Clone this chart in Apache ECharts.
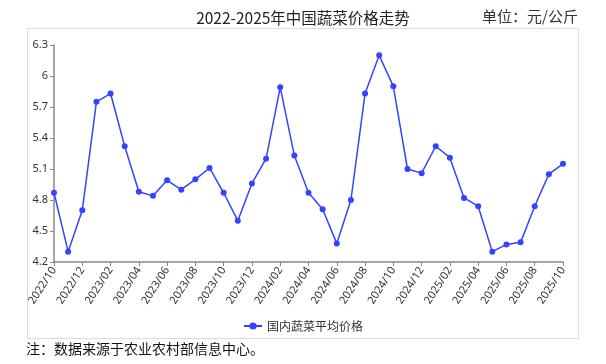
<!DOCTYPE html>
<html>
<head>
<meta charset="utf-8">
<script src="https://cdn.jsdelivr.net/npm/echarts@6/dist/echarts.min.js"></script>
<style>
html,body{margin:0;padding:0;background:#fff;}
#c{width:606px;height:364px;}
</style>
</head>
<body>
<div id="c"></div>
<script>
const months = ["2022/10","2022/11","2022/12",
"2023/01","2023/02","2023/03","2023/04","2023/05","2023/06","2023/07","2023/08","2023/09","2023/10","2023/11","2023/12",
"2024/01","2024/02","2024/03","2024/04","2024/05","2024/06","2024/07","2024/08","2024/09","2024/10","2024/11","2024/12",
"2025/01","2025/02","2025/03","2025/04","2025/05","2025/06","2025/07","2025/08","2025/09","2025/10"];
const prices = [4.87,4.30,4.70,
5.75,5.83,5.32,4.88,4.84,4.99,4.90,5.00,5.11,4.87,4.60,4.96,
5.20,5.89,5.23,4.87,4.71,4.38,4.80,5.83,6.20,5.90,5.10,5.06,
5.32,5.21,4.82,4.74,4.30,4.37,4.39,4.74,5.05,5.15];
const seriesName = "国内蔬菜平均价格";
const titleText = "2022-2025年中国蔬菜价格走势";
const unitText = "单位：元/公斤";
const noteText = "注：数据来源于农业农村部信息中心。";

const chart = echarts.init(document.getElementById('c'), null, {renderer:'canvas'});
const blue = '#3344ff';
chart.setOption({
  animation:false,
  backgroundColor:'#fff',
  title:{
    text:titleText, left:'center', top:5,
    textStyle:{fontFamily:'Noto Sans CJK SC', fontSize:15.5, fontWeight:'normal', color:'#222'}
  },
  graphic:[
    {type:'rect', shape:{x:27.5,y:28.5,width:551,height:310}, style:{fill:'none', stroke:'#dcdcdc', lineWidth:1}, z:-1},
    {type:'text', right:28, top:9, style:{text:unitText, font:'15px "Noto Sans CJK SC"', fill:'#333'}},
    {type:'text', left:26, top:342, style:{text:noteText, font:'14px "Noto Sans CJK SC"', fill:'#111'}}
  ],
  legend:{
    data:[seriesName],
    left:'center', top:315,
    itemWidth:18, itemHeight:9,
    textStyle:{fontFamily:'Noto Sans CJK SC', fontSize:12, color:'#333'}
  },
  grid:{left:54, right:43, top:45, bottom:102, containLabel:false},
  xAxis:{
    type:'category', data:months, boundaryGap:false,
    axisLine:{lineStyle:{color:'#888', width:1.5}},
    axisTick:{interval:1, length:4, lineStyle:{color:'#888'}},
    axisLabel:{interval:1, rotate:57, fontFamily:'Noto Sans', fontSize:11, color:'#333', margin:6}
  },
  yAxis:{
    type:'value', min:4.2, max:6.3, interval:0.3,
    axisLine:{show:true, lineStyle:{color:'#888', width:1.5}},
    axisTick:{show:true, length:4, lineStyle:{color:'#888'}},
    splitLine:{show:false},
    axisLabel:{fontFamily:'Noto Sans', fontSize:11, color:'#333', margin:6,
      formatter:v=>String(Math.round(v*10)/10)}
  },
  series:[{
    name:seriesName, type:'line', data:prices,
    symbol:'circle', symbolSize:6,
    lineStyle:{color:blue, width:1.5},
    itemStyle:{color:blue}
  }]
});
</script>
</body>
</html>
